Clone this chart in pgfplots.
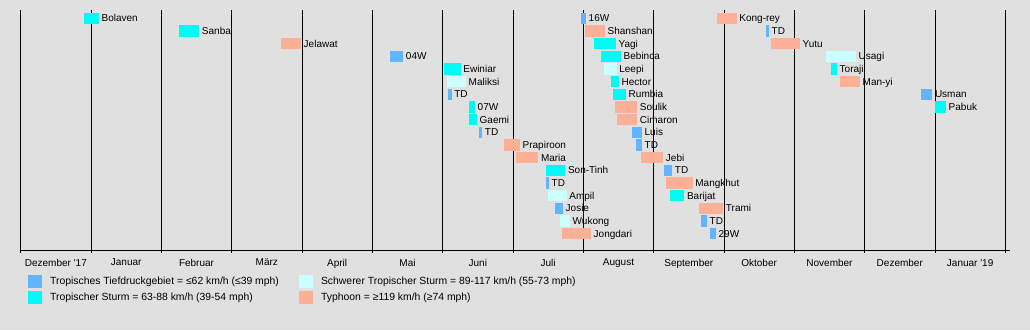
\documentclass[border=0pt]{standalone}
\usepackage{fontspec}
\setmainfont{Liberation Sans}
\usepackage{pgfplots}
\usepackage{pgfplotstable}
\pgfplotsset{compat=1.18}
\definecolor{bgc}{rgb}{0.88,0.88,0.88}
\definecolor{TDc}{rgb}{0.38,0.71,1}
\definecolor{TSc}{rgb}{0,0.98,0.96}
\definecolor{STc}{rgb}{0.80,1,1}
\definecolor{TYc}{rgb}{0.99,0.69,0.59}

% x: months since 1 Dec 2017 (month grid evenly spaced), r: row (1 = top)
\pgfplotstableread{
s e r name
5.251 5.440 4 04W
6.076 6.128 7 TD
6.516 6.563 10 TD
7.469 7.512 14 TD
7.597 7.711 16 Josie
7.967 8.038 1 16W
8.692 8.834 10 Luis
8.749 8.834 11 TD
9.147 9.265 13 TD
9.673 9.758 17 TD
9.801 9.886 18 29W
10.597 10.640 2 TD
12.801 12.962 7 Usman
}\tdtab
\pgfplotstableread{
s e r name
0.900 1.113 1 Bolaven
2.251 2.539 2 Sanba
6.019 6.256 5 Ewiniar
6.378 6.460 8 07W
6.378 6.488 9 Gaemi
7.469 7.744 13 Son-Tinh
8.152 8.464 3 Yagi
8.247 8.536 4 Bebinca
8.389 8.507 6 Hector
8.417 8.607 7 Rumbia
9.236 9.436 15 Barijat
11.522 11.607 5 Toraji
13.000 13.157 8 Pabuk
}\tstab
\pgfplotstableread{
s e r name
6.057 6.332 6 Maliksi
7.497 7.763 15 Ampil
7.668 7.811 17 Wukong
8.294 8.474 5 Leepi
11.450 11.877 4 Usagi
}\sttab
\pgfplotstableread{
s e r name
3.701 3.986 3 Jelawat
6.872 7.099 11 Prapiroon
7.043 7.360 12 Maria
7.697 8.109 18 Jongdari
8.024 8.308 2 Shanshan
8.450 8.767 8 Soulik
8.483 8.767 9 Cimaron
8.820 9.137 12 Jebi
9.175 9.555 14 Mangkhut
9.649 9.990 16 Trami
9.906 10.181 1 Kong-rey
10.664 11.081 3 Yutu
11.649 11.934 6 Man-yi
}\tytab

\pgfplotsset{
  barstyle/.style={forget plot, draw=none, mark=none,
    error bars/.cd, x dir=plus, x explicit, error mark=none,
    error bar style={draw=#1, line width=11.3pt}},
  labstyle/.style={forget plot, only marks, mark=none,
    nodes near coords={\pgfplotspointmeta}, point meta=explicit symbolic,
    every node near coord/.style={anchor=base west, inner sep=0pt, xshift=2.5pt, yshift=-3.6pt, black, font=\fontsize{10}{12}\selectfont}},
}

\begin{document}
\begin{tikzpicture}
\fill[bgc] (-20pt,-80pt) rectangle (1010pt,250pt);
\begin{axis}[
  scale only axis, width=990pt, height=240pt,
  xmin=-0.01, xmax=14.067, ymin=0.345, ymax=19.29, y dir=reverse,
  axis x line*=bottom, axis y line=none,
  xtick={0,...,14}, xticklabels={},
  extra x ticks={0.5,1.5,2.5,3.5,4.5,5.5,6.5,7.5,8.5,9.5,10.5,11.5,12.5,13.5},
  extra x tick labels={Dezember \textquotesingle17,Januar,Februar,März,April,Mai,Juni,Juli,August,September,Oktober,November,Dezember,Januar \textquotesingle19},
  extra x tick style={grid=none, major tick length=0pt, tick label style={yshift=-5.5pt}},
  xmajorgrids, grid style={black, line width=0.9pt},
  tick align=center, major tick length=5pt, tick style={black, line width=0.9pt},
  axis line style={black, line width=0.9pt},
  clip=false,
  legend columns=2, legend cell align=left,
  legend style={at={(axis description cs:0,0)}, anchor=north west, xshift=8pt, yshift=-24.5pt,
    draw=none, fill=none, inner sep=0pt, outer sep=0pt, row sep=3pt,
    font=\fontsize{10.4}{12}\selectfont,
    /tikz/every odd column/.append style={column sep=7pt},
    /tikz/every even column/.append style={column sep=18pt}},
]
\addplot[barstyle=TDc] table[x=s, y=r, x error expr=\thisrow{e}-\thisrow{s}] {\tdtab};
\addplot[barstyle=TSc] table[x=s, y=r, x error expr=\thisrow{e}-\thisrow{s}] {\tstab};
\addplot[barstyle=STc] table[x=s, y=r, x error expr=\thisrow{e}-\thisrow{s}] {\sttab};
\addplot[barstyle=TYc] table[x=s, y=r, x error expr=\thisrow{e}-\thisrow{s}] {\tytab};
\addplot[labstyle] table[x=e, y=r, meta=name] {\tdtab};
\addplot[labstyle] table[x=e, y=r, meta=name] {\tstab};
\addplot[labstyle] table[x=e, y=r, meta=name] {\sttab};
\addplot[labstyle] table[x=e, y=r, meta=name] {\tytab};
\addlegendimage{legend image code/.code={\fill[TDc] (0pt,-6.2pt) rectangle (12.7pt,6.2pt);}}
\addlegendentry{Tropisches Tiefdruckgebiet = ≤62 km/h (≤39 mph)}
\addlegendimage{legend image code/.code={\fill[STc] (0pt,-6.2pt) rectangle (12.7pt,6.2pt);}}
\addlegendentry{Schwerer Tropischer Sturm = 89-117 km/h (55-73 mph)}
\addlegendimage{legend image code/.code={\fill[TSc] (0pt,-6.2pt) rectangle (12.7pt,6.2pt);}}
\addlegendentry{Tropischer Sturm = 63-88 km/h (39-54 mph)}
\addlegendimage{legend image code/.code={\fill[TYc] (0pt,-6.2pt) rectangle (12.7pt,6.2pt);}}
\addlegendentry{Typhoon = ≥119 km/h (≥74 mph)}
\end{axis}
\end{tikzpicture}
\end{document}
